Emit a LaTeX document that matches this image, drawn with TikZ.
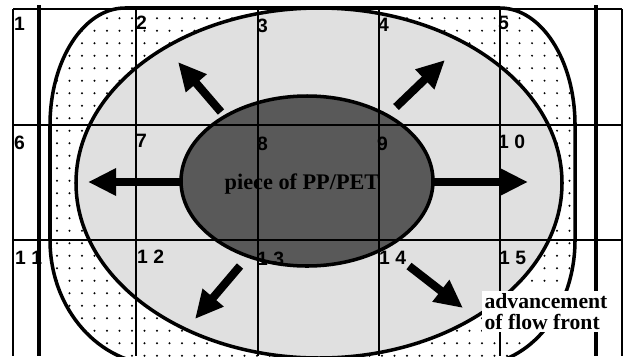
\documentclass[tikz,border=0pt]{standalone}
\usepackage{fontspec}
\setmainfont{Liberation Serif}
\setsansfont{Liberation Sans}
\usepackage{xcolor}
\usepackage{tikz}
\usetikzlibrary{arrows.meta}

\definecolor{piecegray}{gray}{0.35}
\definecolor{frontgray}{gray}{0.88}

% outer boundary of the mould, used for clipping and drawing
\newcommand{\moldoutline}{(125,8) -- (500,8)
  arc[start angle=-90,end angle=0,x radius=75,y radius=117] -- (575,240)
  arc[start angle=0,end angle=90,x radius=100,y radius=125] -- (160,365)
  arc[start angle=90,end angle=180,x radius=110,y radius=125] -- (50,125)
  arc[start angle=180,end angle=270,x radius=75,y radius=117] -- cycle}

\tikzset{
  cellnum/.style={anchor=north west,inner sep=0pt,font=\sffamily\bfseries\fontsize{16.5}{16.5}\selectfont},
  flowarrow/.style={line width=7pt,-{Triangle[width=22pt,length=24pt]}},
  gridline/.style={line width=1pt},
  boundary/.style={line width=3pt}
}

\begin{document}
\begin{tikzpicture}[x=0.03cm,y=-0.03cm]
    \useasboundingbox (0,0) rectangle (625,356);

    % Dotted zone inside the mould boundary
    \begin{scope}
        \clip \moldoutline;
        \foreach \i in {0,...,46} {
            \foreach \j in {0,...,29} {
                \fill ({7+12.5*\i},{5.7+12.5*\j}) circle[radius=0.9pt];
            }
        }
    \end{scope}

    % Flow front (light) and piece (dark)
    \draw[boundary,fill=frontgray] (319,183) ellipse[x radius=243,y radius=175];
    \draw[boundary,fill=piecegray] (307,181) ellipse[x radius=126,y radius=85];

    % Cell grid
    \foreach \x in {13,136,258,379,500,622} {
        \draw[gridline] (\x,9) -- (\x,356);
    }
    \foreach \y in {9,125,240} {
        \draw[gridline] (13,\y) -- (622,\y);
    }

    % Mould boundary and thick side lines
    \draw[boundary] \moldoutline;
    \foreach \x in {39,596} {
        \draw[line width=3.2pt] (\x,5) -- (\x,356);
    }

    % Flow arrows
    \foreach \xa/\ya/\xb/\yb in {221/112/178/62, 396/107/445/60, 182/182/88/182,
                                 433/182/528/182, 240/266/195/319, 409/266/463/308} {
        \draw[flowarrow] (\xa,\ya) -- (\xb,\yb);
    }

    % Cell numbers
    \foreach \txt/\x/\y [count=\k] in {1/14/17, 2/136/16, 3/257/19, 4/378/18, 5/498/16,
                                       6/14/136, 7/136/134, 8/257/137, 9/377/137, 1 0/498/135,
                                       1 1/15/251, 1 2/137/250, 1 3/257/252, 1 4/379/251, 1 5/499/251} {
        \node[cellnum] (cell\k) at (\x,\y) {\txt};
    }

    % Labels
    \node[font=\bfseries\fontsize{19}{19}\selectfont] (piece) at (302,184) {piece of PP/PET};
    \node[fill=white,align=left,inner sep=2pt,anchor=north west,
          font=\bfseries\fontsize{18.5}{18}\selectfont] (front) at (482,291) {advancement\\of flow front};
\end{tikzpicture}
\end{document}
